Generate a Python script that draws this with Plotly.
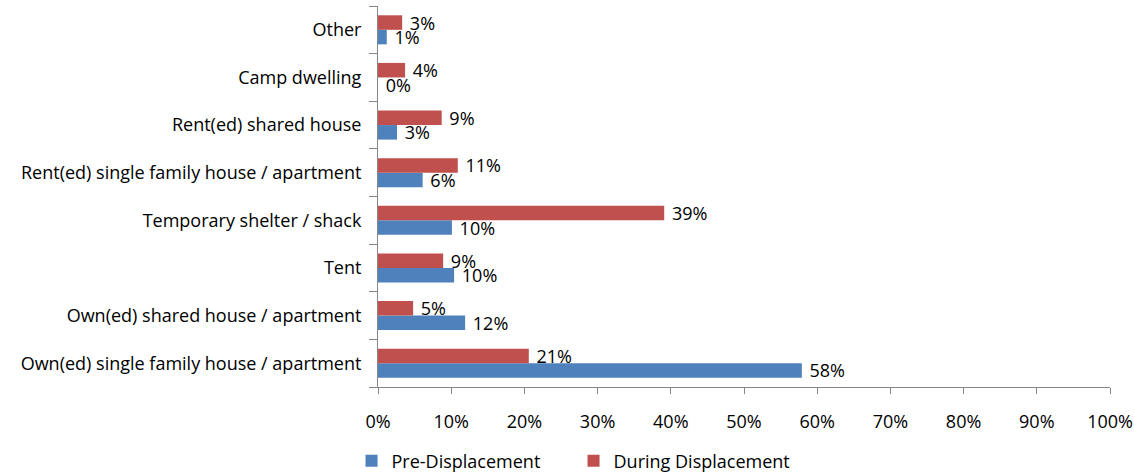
import plotly.graph_objects as go

categories = [
    "Own(ed) single family house / apartment",
    "Own(ed) shared house / apartment",
    "Tent",
    "Temporary shelter / shack",
    "Rent(ed) single family house / apartment",
    "Rent(ed) shared house",
    "Camp dwelling",
    "Other",
]
pre_displacement = [0.579, 0.119, 0.104, 0.101, 0.061, 0.026, 0.0, 0.012]
during_displacement = [0.206, 0.048, 0.089, 0.391, 0.109, 0.087, 0.037, 0.033]
x_ticks = [i / 10 for i in range(11)]

FONT = "Open Sans"
FS = 18
fig = go.Figure()
for name, vals, col in [("Pre-Displacement", pre_displacement, "#4F81BD"),
                        ("During Displacement", during_displacement, "#C0504D")]:
    fig.add_trace(go.Bar(
        y=categories, x=vals, orientation="h", name=name,
        marker=dict(color=col, line=dict(width=0)),
        texttemplate="\u00a0%{x:.0%}", textposition="outside",
        constraintext="none",
        textfont=dict(size=FS, color="black", family=FONT), cliponaxis=False,
    ))
fig.update_layout(
    width=1134, height=473,
    margin=dict(l=378, r=24, t=6, b=86, autoexpand=False),
    barmode="group", bargap=0.39, bargroupgap=0,
    paper_bgcolor="white", plot_bgcolor="white",
    font=dict(family=FONT, size=FS, color="black"),
    legend=dict(orientation="h", xref="container", yref="paper",
                x=0.31, xanchor="left", y=-0.146, yanchor="top",
                font=dict(size=FS), traceorder="normal", itemwidth=30,
                entrywidth=177),
    showlegend=True,
)
fig.update_xaxes(range=[0, 1], tickvals=x_ticks, tickformat=".0%",
                 showgrid=False, zeroline=False, showline=True,
                 linecolor="#868686", linewidth=1, ticks="outside",
                 tickcolor="#868686", ticklen=6, ticklabelstandoff=12,
                 automargin=False)
fig.update_yaxes(showgrid=False, showline=True, linecolor="#868686",
                 linewidth=1, ticks="outside", tickson="boundaries",
                 tickcolor="#868686", ticklen=8, ticklabelstandoff=12,
                 automargin=False)
fig.write_html("out.html", config={"displayModeBar": False},
               post_script="document.body.style.margin='0';")
